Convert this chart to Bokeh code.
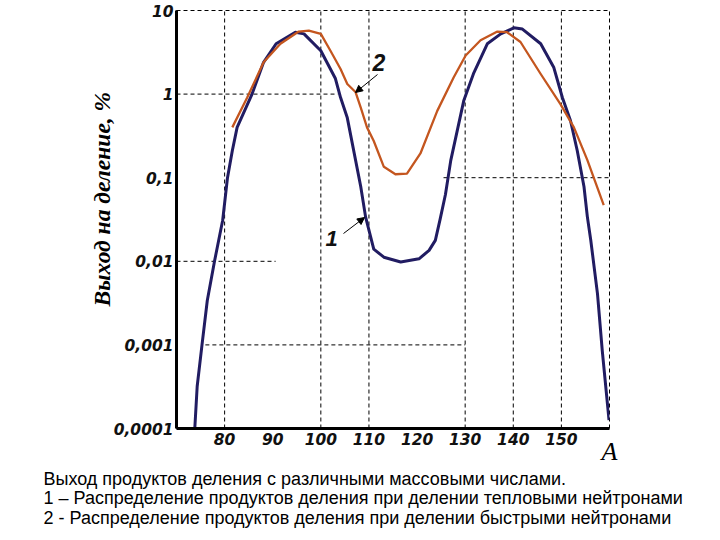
import numpy as np
from bokeh.plotting import figure
from bokeh.models import FixedTicker, Label, Arrow, NormalHead, Title
from bokeh.embed import file_html
from bokeh.resources import INLINE

# ---------------- data ----------------
mass_thermal = [73.8, 74.3, 75.3, 76.4, 77.9, 79.6, 80.6, 81.6, 82.6, 85.7, 88.1, 90.7,
                94.7, 96.5, 100.0, 103.0, 104.1, 105.5, 108.3, 109.3, 111.0, 113.1,
                116.6, 120.4, 122.5, 123.8, 124.8, 125.9, 127.0, 129.7, 131.8, 134.6,
                137.4, 140.1, 141.9, 145.7, 148.4, 150.2, 151.9, 153.3, 154.7, 155.4,
                156.1, 157.5, 158.5, 159.9]
yield_thermal = [0.0001, 0.00032, 0.001, 0.0034, 0.01, 0.031, 0.1, 0.21, 0.40, 1.0, 2.4, 4.0,
                 5.5, 5.25, 3.3, 1.55, 0.91, 0.52, 0.078, 0.034, 0.014, 0.0112,
                 0.0098, 0.0107, 0.0135, 0.0178, 0.032, 0.063, 0.16, 0.83, 1.8, 4.0,
                 5.25, 6.2, 6.0, 4.0, 2.1, 0.91, 0.48, 0.21, 0.078, 0.034,
                 0.018, 0.0041, 0.00085, 0.000126]

mass_fast = [81.6, 84.7, 88.1, 91.6, 95.4, 97.5, 100.0, 102.0, 104.1, 105.5, 107.2, 108.3,
             109.6, 111.0, 113.1, 115.5, 117.9, 120.7, 124.2, 127.6, 130.1, 133.2, 136.7,
             138.7, 141.5, 145.7, 149.8, 152.6, 155.4, 158.8]
yield_fast = [0.40, 0.91, 2.4, 4.0, 5.6, 5.75, 5.25, 3.3, 2.0, 1.32, 1.06, 0.69,
              0.40, 0.275, 0.135, 0.11, 0.112, 0.195, 0.63, 1.58, 2.9, 4.4, 5.6,
              5.5, 4.2, 1.74, 0.76, 0.40, 0.162, 0.047]

x_ticks = [80, 90, 100, 110, 120, 130, 140, 150]
y_ticks = [0.0001, 0.001, 0.01, 0.1, 1, 10]
y_tick_labels = ["0,0001", "0,001", "0,01", "0,1", "1", "10"]

# partial dashed grid lines of the original drawing
vgrid_mass = [80, 100, 110, 130, 140, 150]
hgrid_yield = [1, 0.1, 0.01, 0.001]
hgrid_from = [70, 125.5, 70, 76]
hgrid_to = [103.5, 160, 90.6, 130]

x_title = "A"
y_title = "Выход на деление, %"
curve_labels = ["1", "2"]
caption_lines = [
    "Выход продуктов деления с различными массовыми числами.",
    "1 – Распределение продуктов деления при делении тепловыми нейтронами",
    "2 - Распределение продуктов деления при делении быстрыми нейтронами",
]

# ---------------- layout helpers ----------------
X0, X1 = 70, 160
Y0, Y1 = 1e-4, 10
FL, FR, FT, FB = 176, 609, 10, 428  # frame edges in page pixels
W, H = 720, 540


def ax(px):
    return X0 + (px - FL) / (FR - FL) * (X1 - X0)


def ay(py):
    ly0, ly1 = np.log10(Y0), np.log10(Y1)
    return 10 ** (ly1 - (py - FT) / (FB - FT) * (ly1 - ly0))


p = figure(width=W, height=H, x_range=(X0, X1), y_range=(Y0, Y1), y_axis_type="log",
           output_backend="svg", toolbar_location=None, title=None,
           min_border_left=FL, min_border_right=W - FR,
           min_border_top=FT, min_border_bottom=H - FB)
p.background_fill_color = "white"
p.border_fill_color = "white"
p.xgrid.grid_line_color = None
p.ygrid.grid_line_color = None
p.outline_line_color = "black"
p.outline_line_width = 1
p.outline_line_dash = "4 3"

TICK_FONT = dict(font="DejaVu Sans", style="bold italic", size="15.5px", color="#111111")
p.xaxis.ticker = FixedTicker(ticks=x_ticks)
p.yaxis.ticker = FixedTicker(ticks=y_ticks)
p.yaxis.major_label_overrides = {v: t for v, t in zip(y_ticks, y_tick_labels)}
p.xaxis.major_label_standoff = 4
p.yaxis.major_label_standoff = 3
for a in (p.xaxis[0], p.yaxis[0]):
    a.axis_line_color = "black"
    a.axis_line_width = 3
    a.major_tick_line_color = None
    a.minor_tick_line_color = None
    a.major_tick_out = 0
    a.major_tick_in = 0
    a.major_label_text_font = TICK_FONT["font"]
    a.major_label_text_font_style = TICK_FONT["style"]
    a.major_label_text_font_size = TICK_FONT["size"]
    a.major_label_text_color = TICK_FONT["color"]

# x-axis title "A" at the right end of the axis
xa = p.xaxis[0]
xa.axis_label = x_title
xa.axis_label_align = "end"
xa.axis_label_standoff = -11
xa.axis_label_text_font = "Liberation Serif"
xa.axis_label_text_font_style = "italic"
xa.axis_label_text_font_size = "26px"
xa.axis_label_text_color = "black"

# y-axis title (starts 122 px above the frame bottom)
p.add_layout(Title(text=y_title, align="left", offset=122, standoff=-9,
                   text_font="Liberation Serif", text_font_style="bold italic",
                   text_font_size="23.5px", text_color="black"), "left")

# dashed grid segments
DASH = "4 3"
p.segment(x0=vgrid_mass, y0=[Y0] * len(vgrid_mass), x1=vgrid_mass, y1=[Y1] * len(vgrid_mass),
          line_color="black", line_width=1, line_dash=DASH)
p.segment(x0=hgrid_from, y0=hgrid_yield, x1=hgrid_to, y1=hgrid_yield,
          line_color="black", line_width=1, line_dash=DASH)

# curves
p.line(mass_thermal, yield_thermal, line_color="#211c62", line_width=3, line_join="round")
p.line(mass_fast, yield_fast, line_color="#c4561f", line_width=2.3, line_join="round")

# curve annotations
p.add_layout(Label(x=ax(331), y=ay(238), text=curve_labels[0], text_align="center",
                   text_baseline="middle", text_font="Liberation Sans",
                   text_font_style="bold italic", text_font_size="22px", text_color="#111111"))
p.add_layout(Label(x=ax(378.5), y=ay(62), text=curve_labels[1], text_align="center",
                   text_baseline="middle", text_font="Liberation Sans",
                   text_font_style="bold italic", text_font_size="23px", text_color="#111111"))
p.add_layout(Arrow(end=NormalHead(size=7, fill_color="black", line_color="black"),
                   x_start=ax(343), y_start=ay(233), x_end=ax(364), y_end=ay(217),
                   line_color="black", line_width=1))
p.add_layout(Arrow(end=NormalHead(size=7, fill_color="black", line_color="black"),
                   x_start=ax(377), y_start=ay(74), x_end=ax(355), y_end=ay(92),
                   line_color="black", line_width=1))

# caption lines under the chart
for i, line in enumerate(caption_lines):
    p.add_layout(Title(text=line, align="left", offset=43 - FL, standoff=-4 if i == 0 else -2,
                       text_font="Liberation Sans", text_font_style="normal",
                       text_font_size="18px", text_color="black"), "below")

open("out.html", "w").write(file_html(p, INLINE))
